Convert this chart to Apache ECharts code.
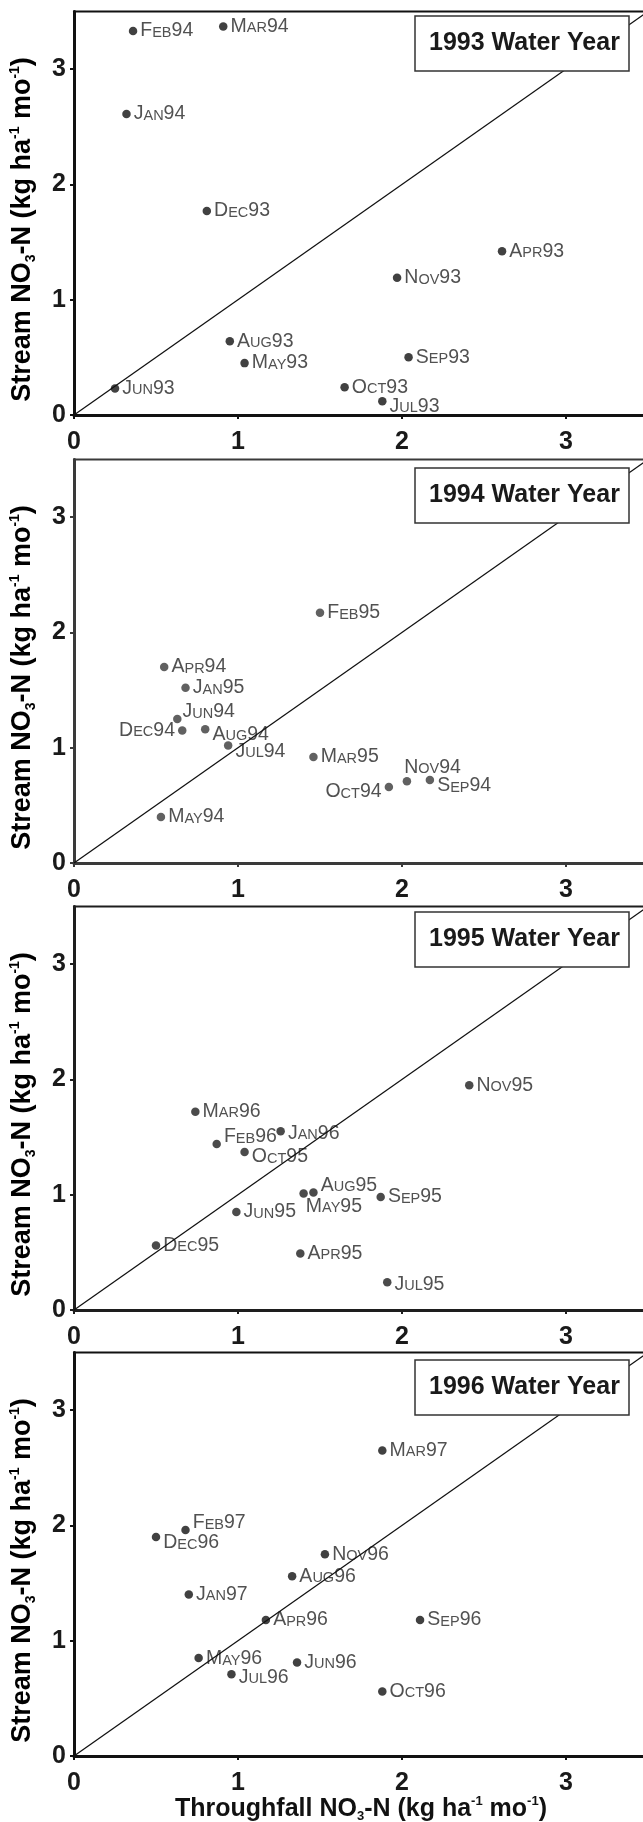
<!DOCTYPE html>
<html>
<head>
    <title>Stream vs Throughfall NO3-N</title>
    <style>
        body {
            margin: 0;
            background: #fff;
        }

        #chart {
            width: 643px;
            height: 1822px;
        }
    </style>
    <script src="https://cdn.jsdelivr.net/npm/echarts@6/dist/echarts.min.js"></script>
</head>
<body>
    <div id="chart"></div>

    <script>
        // water years, April to March
        var years = ['1993', '1994', '1995', '1996'];

        var months93 = ['Apr93', 'May93', 'Jun93', 'Jul93', 'Aug93', 'Sep93', 'Oct93', 'Nov93', 'Dec93', 'Jan94', 'Feb94', 'Mar94'];
        var tf93 = [2.61, 1.04, 0.25, 1.88, 0.95, 2.04, 1.65, 1.97, 0.81, 0.32, 0.36, 0.91];
        var st93 = [1.42, 0.45, 0.23, 0.12, 0.64, 0.50, 0.24, 1.19, 1.77, 2.61, 3.33, 3.37];

        var months94 = ['Apr94', 'May94', 'Jun94', 'Jul94', 'Aug94', 'Sep94', 'Oct94', 'Nov94', 'Dec94', 'Jan95', 'Feb95', 'Mar95'];
        var tf94 = [0.55, 0.53, 0.63, 0.94, 0.80, 2.17, 1.92, 2.03, 0.66, 0.68, 1.50, 1.46];
        var st94 = [1.70, 0.40, 1.25, 1.02, 1.16, 0.72, 0.66, 0.71, 1.15, 1.52, 2.17, 0.92];

        var months95 = ['Apr95', 'May95', 'Jun95', 'Jul95', 'Aug95', 'Sep95', 'Oct95', 'Nov95', 'Dec95', 'Jan96', 'Feb96', 'Mar96'];
        var tf95 = [1.38, 1.40, 0.99, 1.91, 1.46, 1.87, 1.04, 2.41, 0.50, 1.26, 0.87, 0.74];
        var st95 = [0.49, 1.01, 0.85, 0.24, 1.02, 0.98, 1.37, 1.95, 0.56, 1.55, 1.44, 1.72];

        var months96 = ['Apr96', 'May96', 'Jun96', 'Jul96', 'Aug96', 'Sep96', 'Oct96', 'Nov96', 'Dec96', 'Jan97', 'Feb97', 'Mar97'];
        var tf96 = [1.17, 0.76, 1.36, 0.96, 1.33, 2.11, 1.88, 1.53, 0.50, 0.70, 0.68, 1.88];
        var st96 = [1.18, 0.85, 0.81, 0.71, 1.56, 1.18, 0.56, 1.75, 1.90, 1.40, 1.96, 2.65];

        var axisTicks = [0, 1, 2, 3];
        var axisMax = 3.5;

        // where a month label sits when not plain right of its dot: [side, dx, dy]
        var labelNudge = {
            Jul93: ['right', 0, 5],
            Jun94: ['right', -2, -7],
            Dec94: ['left', 0, 0],
            Aug94: ['right', 0, 5],
            Jul94: ['right', 0, 6],
            Oct94: ['left', 0, 5],
            Nov94: ['right', -10, -14],
            Sep94: ['right', 0, 6],
            Feb96: ['right', 0, -7],
            Jan96: ['right', 0, 2],
            Oct95: ['right', 0, 5],
            Aug95: ['right', 0, -7],
            May95: ['right', -5, 13],
            Jul95: ['right', 0, 2],
            Feb97: ['right', 0, -7],
            Dec96: ['right', 0, 6],
            Jul96: ['right', 0, 3],
            May96: ['right', 0, 1]
        };

        var panels = [
            { months: months93, tf: tf93, st: st93 },
            { months: months94, tf: tf94, st: st94 },
            { months: months95, tf: tf95, st: st95 },
            { months: months96, tf: tf96, st: st96 }
        ];

        var font = '"Liberation Sans", Arial, sans-serif';
        var panelTop = [11.5, 459.5, 906.5, 1352.5];
        var boxTop = [23, 475, 919, 1367];
        var ink = ['#111', '#3a3a3a', '#1e1e1e', '#111'];
        var plotH = 403.5;

        function smallCaps(name) {
            return '{c|' + name.charAt(0) + '}{s|' + name.slice(1, 3).toUpperCase() + '}{c|' + name.slice(3) + '}';
        }

        function unitRich(size) {
            var small = Math.round(size * 0.5);
            return {
                t: { fontSize: size, fontWeight: 'bold', lineHeight: size + 3, height: size + 3, fontFamily: font, color: '#111' },
                sub: { fontSize: small, fontWeight: 'bold', lineHeight: small, height: small, verticalAlign: 'bottom', fontFamily: font, color: '#111' },
                sup: { fontSize: small, fontWeight: 'bold', lineHeight: small, height: small, verticalAlign: 'top', fontFamily: font, color: '#111' }
            };
        }
        var unitText = '{sub|3}{t|-N (kg ha}{sup|-1}{t| mo}{sup|-1}{t|)}';

        var grids = [], xAxes = [], yAxes = [], series = [], titles = [], yNames = [];

        panels.forEach(function (p, i) {
            grids.push({
                left: 74,
                top: panelTop[i],
                width: 574,
                height: plotH,
                outerBoundsMode: 'none',
                containLabel: false,
                show: true,
                borderColor: ink[i],
                borderWidth: 2
            });

            var axisCommon = {
                gridIndex: i,
                type: 'value',
                min: 0,
                max: axisMax,
                interval: 1,
                splitLine: { show: false },
                axisLine: { onZero: false, lineStyle: { color: ink[i], width: 3 } },
                axisTick: { length: 4, customValues: axisTicks, lineStyle: { color: ink[i], width: 2 } },
                axisLabel: {
                    customValues: axisTicks,
                    fontSize: 25,
                    fontWeight: 'bold',
                    fontFamily: font,
                    color: '#1a1a1a'
                }
            };

            var xa = echarts.util.merge({ axisLabel: { margin: 6 } }, axisCommon, true);
            if (i === panels.length - 1) {
                xa.name = '{t|Throughfall NO}' + unitText;
                xa.nameLocation = 'middle';
                xa.nameGap = 39;
                xa.nameMoveOverlap = false;
                xa.nameTextStyle = { rich: unitRich(25) };
            }
            xAxes.push(xa);

            yAxes.push(echarts.util.merge({ axisLabel: { margin: 8 } }, axisCommon, true));

            // y title drawn as rotated text so it can sit a little below the plot middle
            yNames.push({
                type: 'text',
                x: 23,
                y: panelTop[i] + 218,
                rotation: Math.PI / 2,
                silent: true,
                style: {
                    text: '{t|Stream NO}' + unitText,
                    rich: unitRich(27),
                    align: 'center',
                    verticalAlign: 'middle'
                }
            });

            var data = p.months.map(function (m, k) {
                var n = labelNudge[m] || ['right', 0, 0];
                return {
                    name: m,
                    value: [p.tf[k], p.st[k]],
                    label: { position: n[0], offset: [n[1], n[2]] }
                };
            });

            series.push({
                type: 'scatter',
                xAxisIndex: i,
                yAxisIndex: i,
                symbolSize: 8.5,
                itemStyle: { color: ink[i] },
                data: data,
                label: {
                    show: true,
                    distance: 3,
                    formatter: function (d) {
                        return smallCaps(d.name);
                    },
                    rich: {
                        c: { fontSize: 19.5, lineHeight: 19, height: 19, verticalAlign: 'bottom', fontFamily: font, color: '#262626' },
                        s: { fontSize: 14.5, lineHeight: 15.5, height: 15.5, verticalAlign: 'bottom', fontFamily: font, color: '#262626' }
                    }
                },
                markLine: {
                    silent: true,
                    symbol: 'none',
                    label: { show: false },
                    lineStyle: { color: '#111', width: 1.3, type: 'solid' },
                    data: [[{ coord: [0, 0] }, { coord: [axisMax, axisMax] }]]
                }
            });

            titles.push({
                text: years[i] + ' Water Year',
                left: 415,
                top: boxTop[i],
                padding: [6, 9, 6, 14],
                backgroundColor: '#fff',
                borderColor: '#333',
                borderWidth: 1.5,
                textStyle: {
                    fontSize: 25,
                    fontWeight: 'bold',
                    fontFamily: font,
                    color: '#1a1a1a',
                    lineHeight: 29
                }
            });
        });

        var myChart = echarts.init(document.getElementById('chart'), null, { renderer: 'canvas' });
        myChart.setOption({
            animation: false,
            backgroundColor: '#fff',
            title: titles,
            grid: grids,
            xAxis: xAxes,
            yAxis: yAxes,
            series: series,
            graphic: yNames
        });
    </script>
</body>
</html>
